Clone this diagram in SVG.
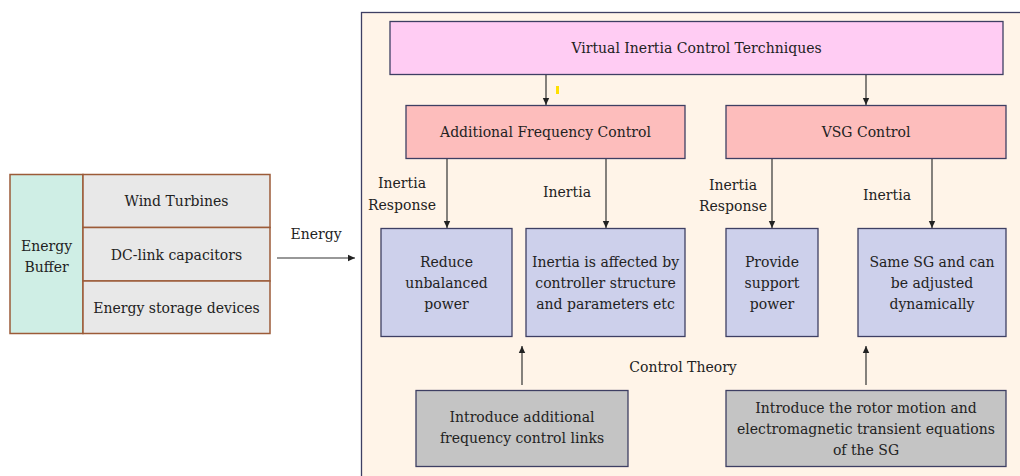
<svg xmlns="http://www.w3.org/2000/svg" width="1020" height="476" viewBox="0 0 1020 476">
<style>
text{font-family:'DejaVu Serif',serif;font-size:14px;fill:#222;text-anchor:middle}
.br{stroke:#9C5B38;stroke-width:1.5}
.nb{stroke:#3E3F63;stroke-width:1.3}
.ln{stroke:#333;stroke-width:1.2;fill:none;marker-end:url(#ah)}
</style>
<defs>
<marker id="ah" markerWidth="8" markerHeight="8" refX="7" refY="4" orient="auto" markerUnits="userSpaceOnUse">
<path d="M0,0.8 L7,4 L0,7.2 Z" fill="#222"/>
</marker>
</defs>
<rect width="1020" height="476" fill="#fff"/>
<g id="energy-buffer">
<rect class="br" x="10" y="174.5" width="73" height="159" fill="#CFEEE5"/>
<text x="46.5" y="251">Energy</text>
<text x="46.5" y="272">Buffer</text>
</g>
<g id="wind-turbines">
<rect class="br" x="83" y="174.5" width="187" height="53" fill="#E8E8E8"/>
<text x="176.5" y="206">Wind Turbines</text>
</g>
<g id="dc-link">
<rect class="br" x="83" y="227.5" width="187" height="53.5" fill="#E8E8E8"/>
<text x="176.5" y="260">DC-link capacitors</text>
</g>
<g id="energy-storage">
<rect class="br" x="83" y="281" width="187" height="52.5" fill="#E8E8E8"/>
<text x="176.5" y="313">Energy storage devices</text>
</g>
<g id="panel">
<rect x="361.5" y="12.5" width="700" height="500" fill="#FFF4E8" stroke="#3E3F63" stroke-width="1.3"/>
<rect x="556" y="86" width="3" height="8" fill="#FFE000"/>
</g>
<g id="vict">
<rect class="nb" x="390" y="21.5" width="613" height="53" fill="#FFCCF3"/>
<text x="696.5" y="53">Virtual Inertia Control Terchniques</text>
</g>
<g id="afc">
<rect class="nb" x="406" y="105.5" width="279" height="53" fill="#FDBDBC"/>
<text x="545.5" y="137">Additional Frequency Control</text>
</g>
<g id="vsg">
<rect class="nb" x="726" y="105.5" width="280" height="53" fill="#FDBDBC"/>
<text x="866" y="137">VSG Control</text>
</g>
<g id="reduce">
<rect class="nb" x="381" y="228.5" width="131" height="108" fill="#CDD0EB"/>
<text x="446.5" y="267">Reduce</text>
<text x="446.5" y="288">unbalanced</text>
<text x="446.5" y="309">power</text>
</g>
<g id="affected">
<rect class="nb" x="526" y="228.5" width="159" height="108" fill="#CDD0EB"/>
<text x="605.5" y="267">Inertia is affected by</text>
<text x="605.5" y="288">controller structure</text>
<text x="605.5" y="309">and parameters etc</text>
</g>
<g id="provide">
<rect class="nb" x="726" y="228.5" width="92" height="108" fill="#CDD0EB"/>
<text x="772" y="267">Provide</text>
<text x="772" y="288">support</text>
<text x="772" y="309">power</text>
</g>
<g id="same-sg">
<rect class="nb" x="858" y="228.5" width="148" height="108" fill="#CDD0EB"/>
<text x="932" y="267">Same SG and can</text>
<text x="932" y="288">be adjusted</text>
<text x="932" y="309">dynamically</text>
</g>
<g id="introduce-afc">
<rect class="nb" x="416" y="390.5" width="212" height="76" fill="#C4C4C4"/>
<text x="522" y="422">Introduce additional</text>
<text x="522" y="443">frequency control links</text>
</g>
<g id="introduce-rotor">
<rect class="nb" x="726" y="390.5" width="280" height="76" fill="#C4C4C4"/>
<text x="866" y="413">Introduce the rotor motion and</text>
<text x="866" y="434">electromagnetic transient equations</text>
<text x="866" y="455">of the SG</text>
</g>
<g id="connectors">
<line class="ln" x1="277" y1="258" x2="355" y2="258"/>
<line class="ln" x1="546" y1="75" x2="546" y2="105"/>
<line class="ln" x1="866" y1="75" x2="866" y2="105"/>
<line class="ln" x1="447" y1="159" x2="447" y2="228"/>
<line class="ln" x1="606" y1="159" x2="606" y2="228"/>
<line class="ln" x1="772" y1="159" x2="772" y2="228"/>
<line class="ln" x1="932" y1="159" x2="932" y2="228"/>
<line class="ln" x1="522" y1="385" x2="522" y2="346"/>
<line class="ln" x1="866" y1="385" x2="866" y2="346"/>
</g>
<g id="labels">
<text x="316" y="239">Energy</text>
<text x="402" y="188">Inertia</text>
<text x="402" y="210">Response</text>
<text x="567" y="197">Inertia</text>
<text x="733" y="190">Inertia</text>
<text x="733" y="211">Response</text>
<text x="887" y="200">Inertia</text>
<text x="683" y="372">Control Theory</text>
</g>
</svg>
